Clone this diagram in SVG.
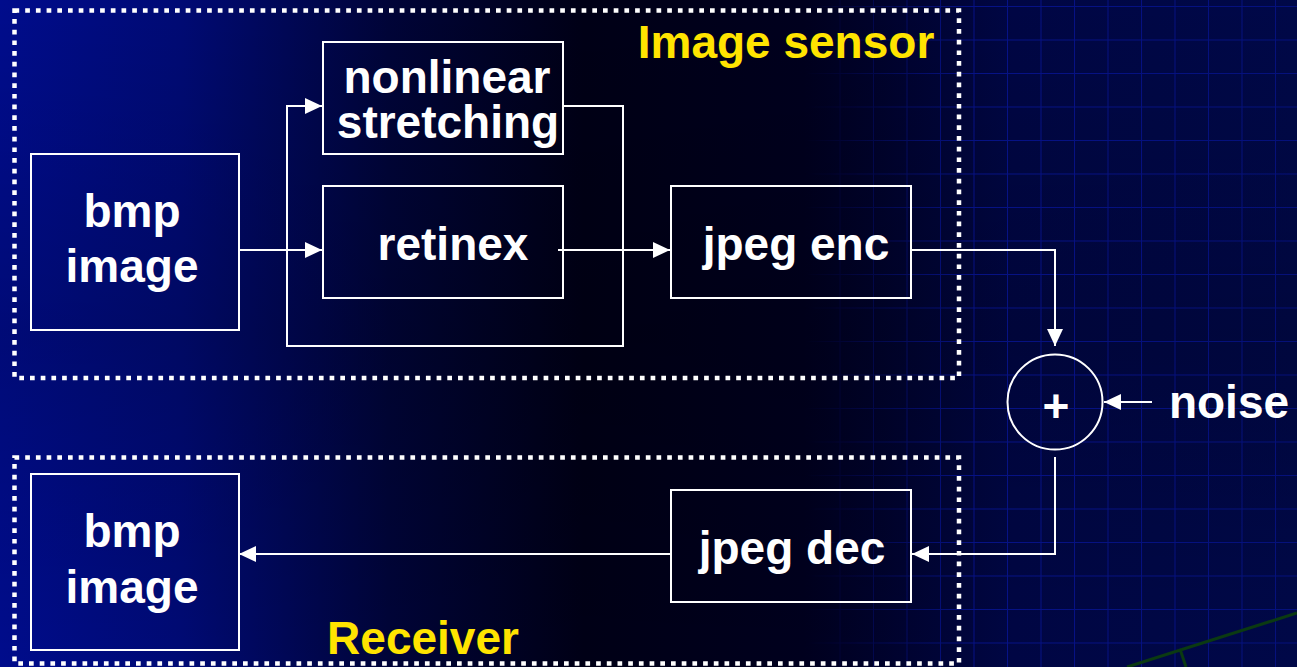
<svg xmlns="http://www.w3.org/2000/svg" width="1297" height="667" viewBox="0 0 1297 667">
<defs>
<linearGradient id="bg" x1="0" y1="0" x2="1" y2="0">
<stop offset="0" stop-color="#000c8c"/>
<stop offset="0.14" stop-color="#000a74"/>
<stop offset="0.3" stop-color="#000438"/>
<stop offset="0.45" stop-color="#000016"/>
<stop offset="0.62" stop-color="#00001e"/>
<stop offset="0.78" stop-color="#000644"/>
<stop offset="1" stop-color="#000848"/>
</linearGradient>
<linearGradient id="vshade" x1="0" y1="0" x2="0" y2="1">
<stop offset="0" stop-color="#000000" stop-opacity="0"/>
<stop offset="0.5" stop-color="#000000" stop-opacity="0.15"/>
<stop offset="1" stop-color="#000000" stop-opacity="0"/>
</linearGradient>
<linearGradient id="gridfade" x1="0" y1="0" x2="1" y2="0">
<stop offset="0" stop-color="#fff" stop-opacity="0"/>
<stop offset="0.62" stop-color="#fff" stop-opacity="0"/>
<stop offset="0.75" stop-color="#fff" stop-opacity="1"/>
<stop offset="1" stop-color="#fff" stop-opacity="0.8"/>
</linearGradient>
<mask id="gm"><rect width="1297" height="667" fill="url(#gridfade)"/></mask>
<pattern id="grid" width="33.5" height="33.5" patternUnits="userSpaceOnUse" x="2" y="6">
<path d="M0 0 H33.5 M0 0 V33.5" stroke="#0a1ab8" stroke-width="2" fill="none" opacity="0.6"/>
</pattern>
<marker id="ah" markerUnits="userSpaceOnUse" markerWidth="17" markerHeight="16" refX="17" refY="8" orient="auto">
<path d="M0,0 L17,8 L0,16 z" fill="#ffffff"/>
</marker>
<style>
.box{fill:none;stroke:#ffffff;stroke-width:2}
.dot{fill:none;stroke:#ffffff;stroke-width:4.5;stroke-dasharray:4.7 6}
.t{font-family:"Liberation Sans",Arial,sans-serif;font-weight:bold;font-size:46px;fill:#ffffff;text-anchor:middle}
.y{fill:#ffe400}
.c{fill:none;stroke:#ffffff;stroke-width:2}
.ca{fill:none;stroke:#ffffff;stroke-width:2;marker-end:url(#ah)}
</style>
</defs>
<rect width="1297" height="667" fill="url(#bg)"/>
<rect width="1297" height="667" fill="url(#vshade)"/>
<rect width="1297" height="667" fill="url(#grid)" mask="url(#gm)"/>
<g id="deco" stroke="#0b3a12" stroke-width="3" fill="none">
<path d="M1127 667 L1297 613"/>
<path d="M1180 649 L1186 667"/>
</g>
<g id="image-sensor">
<rect class="dot" x="14.5" y="10.5" width="944.5" height="367.5"/>
<text class="t y" x="786" y="58">Image sensor</text>
</g>
<g id="receiver">
<rect class="dot" x="14.5" y="457.5" width="944.5" height="206"/>
<text class="t y" x="423" y="654">Receiver</text>
</g>
<g id="connectors">
<path class="ca" d="M239 250 H322"/>
<path class="ca" d="M287 250 V106 H322"/>
<path class="c" d="M287 250 V346 H623 V106 H563"/>
<path class="ca" d="M558 250 H670"/>
<path class="ca" d="M911 250 H1055 V346"/>
<path class="ca" d="M1152 402 H1104"/>
<path class="ca" d="M1055 457 V554 H912"/>
<path class="ca" d="M670 554 H239"/>
</g>
<g id="bmp-image-1">
<rect class="box" x="31" y="154" width="208" height="176"/>
<text class="t"><tspan x="132" y="227">bmp</tspan><tspan x="132" y="282">image</tspan></text>
</g>
<g id="nonlinear-stretching">
<rect class="box" x="323" y="42" width="240" height="112"/>
<text class="t"><tspan x="447" y="93">nonlinear</tspan><tspan x="448" y="138">stretching</tspan></text>
</g>
<g id="retinex">
<rect class="box" x="323" y="186" width="240" height="112"/>
<text class="t" x="453" y="260">retinex</text>
</g>
<g id="jpeg-enc">
<rect class="box" x="671" y="186" width="240" height="112"/>
<text class="t" x="796" y="260">jpeg enc</text>
</g>
<g id="adder">
<circle class="box" cx="1055" cy="402" r="47.5"/>
<text class="t" x="1056" y="422">+</text>
</g>
<g id="noise">
<text class="t" x="1229" y="418">noise</text>
</g>
<g id="jpeg-dec">
<rect class="box" x="671" y="490" width="240" height="112"/>
<text class="t" x="792" y="564">jpeg dec</text>
</g>
<g id="bmp-image-2">
<rect class="box" x="31" y="474" width="208" height="176"/>
<text class="t"><tspan x="132" y="547">bmp</tspan><tspan x="132" y="603">image</tspan></text>
</g>
</svg>
